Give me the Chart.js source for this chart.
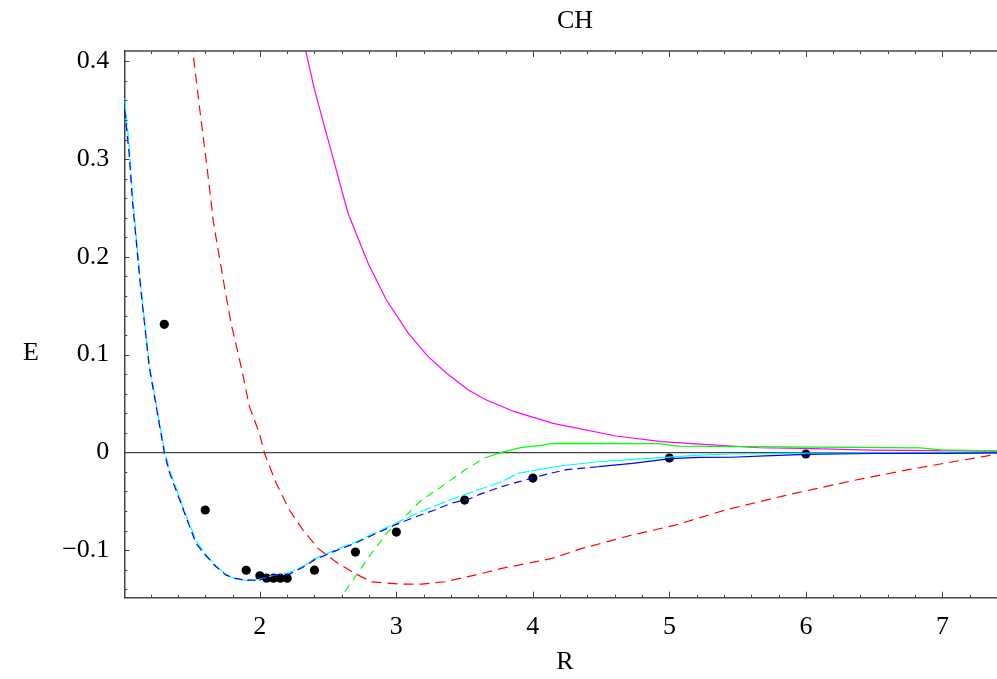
<!DOCTYPE html>
<html>
<head>
<meta charset="utf-8">
<title>CH</title>
<script src="https://cdn.jsdelivr.net/npm/chart.js@4"></script>
<style>
  html, body { margin: 0; padding: 0; background: #fff; }
  #wrap { width: 997px; height: 679px; }
</style>
</head>
<body>
<div id="wrap"><canvas id="chart" width="997" height="679"></canvas></div>
<script>
// axis ticks
const xTickValues = [2, 3, 4, 5, 6, 7];
const yTickValues = [-0.1, 0, 0.1, 0.2, 0.3, 0.4];

// dark blue (dashed, solid at large R)
const blueR = [1.01, 1.043, 1.068, 1.104, 1.128, 1.19, 1.30, 1.336, 1.459, 1.532, 1.60, 1.679, 1.753, 1.82, 1.899, 1.997, 2.095, 2.217, 2.316, 2.40, 2.55, 2.695, 2.85, 2.988, 3.14, 3.28, 3.404, 3.527, 3.61, 3.772, 3.9, 4.016, 4.11, 4.25, 4.48, 4.73, 5.01, 5.216, 5.46, 5.70, 6.0, 6.5, 7.0, 7.42];
const blueE = [0.350, 0.305, 0.255, 0.202, 0.166, 0.087, 0.0, -0.020, -0.066, -0.093, -0.105, -0.117, -0.1256, -0.129, -0.1307, -0.1307, -0.1256, -0.1245, -0.1175, -0.110, -0.101, -0.0932, -0.083, -0.0744, -0.066, -0.059, -0.052, -0.048, -0.043, -0.035, -0.030, -0.0256, -0.022, -0.0176, -0.0147, -0.0113, -0.0065, -0.0051, -0.005, -0.0036, -0.002, -0.0012, -0.001, -0.0006];

// cyan
const cyanR = [1.01, 1.043, 1.068, 1.104, 1.128, 1.19, 1.30, 1.336, 1.459, 1.532, 1.60, 1.679, 1.753, 1.82, 1.899, 1.997, 2.095, 2.217, 2.316, 2.40, 2.55, 2.695, 2.85, 2.988, 3.14, 3.28, 3.404, 3.527, 3.65, 3.772, 3.89, 3.99, 4.21, 4.48, 4.73, 4.97, 5.216, 5.46, 5.83, 6.5, 7.42];
const cyanE = [0.362, 0.313, 0.262, 0.206, 0.170, 0.090, 0.003, -0.017, -0.064, -0.090, -0.104, -0.116, -0.125, -0.1295, -0.131, -0.130, -0.126, -0.123, -0.1165, -0.109, -0.100, -0.092, -0.082, -0.073, -0.063, -0.055, -0.048, -0.042, -0.036, -0.030, -0.0215, -0.019, -0.0137, -0.0096, -0.0072, -0.0051, -0.0028, -0.0017, -0.001, -0.0006, -0.0004];

// red dashed
const redR = [1.50, 1.512, 1.557, 1.60, 1.63, 1.659, 1.703, 1.745, 1.789, 1.863, 1.924, 1.997, 2.034, 2.12, 2.217, 2.316, 2.426, 2.573, 2.695, 2.817, 3.037, 3.184, 3.355, 3.576, 3.772, 4.016, 4.139, 4.36, 4.726, 5.044, 5.41, 5.83, 6.05, 6.366, 6.733, 7.15, 7.32, 7.42];
const redE = [0.42, 0.4067, 0.354, 0.306, 0.272, 0.236, 0.200, 0.166, 0.132, 0.0876, 0.0467, 0.0194, -0.001, -0.0317, -0.059, -0.0795, -0.0983, -0.1136, -0.1238, -0.1324, -0.1348, -0.1348, -0.1324, -0.1256, -0.1187, -0.112, -0.1085, -0.0983, -0.0846, -0.0744, -0.059, -0.0447, -0.0379, -0.0283, -0.0181, -0.0079, -0.0038, -0.001];

// green
const greenR = [2.58, 2.597, 2.707, 2.817, 2.94, 3.037, 3.184, 3.33, 3.50, 3.65, 3.772, 3.918, 4.065, 4.14, 4.92, 5.07, 5.83, 6.84, 6.99, 7.42];
const greenE = [-0.17, -0.148, -0.1256, -0.1034, -0.0812, -0.0693, -0.0488, -0.0352, -0.0181, -0.0055, 0.0, 0.0051, 0.0072, 0.0092, 0.0090, 0.0064, 0.0057, 0.0045, 0.0025, 0.0015];

// magenta
const magentaR = [2.32, 2.335, 2.40, 2.50, 2.646, 2.793, 2.927, 3.087, 3.233, 3.368, 3.527, 3.66, 3.866, 4.148, 4.61, 4.942, 5.25, 5.66, 5.97, 6.48, 7.42];
const magentaE = [0.43, 0.4117, 0.371, 0.3197, 0.2446, 0.1935, 0.1559, 0.122, 0.0979, 0.0809, 0.0638, 0.0535, 0.0416, 0.0297, 0.0167, 0.0109, 0.0082, 0.0047, 0.0041, 0.0023, 0.0013];

// reference points
const dotR = [1.3, 1.6, 1.9, 2.0, 2.05, 2.1, 2.15, 2.2, 2.4, 2.7, 3.0, 3.5, 4.0, 5.0, 6.0];
const dotE = [0.131, -0.059, -0.1206, -0.1263, -0.1287, -0.1287, -0.1287, -0.1287, -0.1205, -0.102, -0.0816, -0.0488, -0.0263, -0.0058, -0.0017];

const zip = (xs, ys) => xs.map((x, i) => ({ x: x, y: ys[i] }));

// dashed up to a given R, solid after it
function curve(label, xs, ys, color, dash, solidFrom) {
  return {
    label: label,
    data: zip(xs, ys),
    borderColor: color,
    borderWidth: 1.2,
    pointRadius: 0,
    tension: 0,
    fill: false,
    segment: {
      borderDash: ctx => (ctx.p0.parsed.x < solidFrom ? dash : [])
    }
  };
}

const serif = '"Liberation Serif", "DejaVu Serif", serif';

// inward ticks, top frame and the labels
const framePlugin = {
  id: 'frame',
  afterDraw(chart) {
    const { ctx, chartArea: a, scales } = chart;
    const xs = scales.x, ys = scales.y;
    ctx.save();
    ctx.strokeStyle = '#444';
    ctx.lineWidth = 1;
    ctx.beginPath();
    for (let i = 6; i <= 37; i++) {
      const v = i / 5;
      const px = Math.round(xs.getPixelForValue(v)) + 0.5;
      if (px < a.left || px > a.right) continue;
      const len = i % 5 === 0 ? 6 : 3;
      ctx.moveTo(px, a.bottom); ctx.lineTo(px, a.bottom - len);
      ctx.moveTo(px, a.top); ctx.lineTo(px, a.top + len);
    }
    for (let i = -7; i <= 20; i++) {
      const v = i / 50;
      const py = Math.round(ys.getPixelForValue(v)) + 0.5;
      if (py < a.top || py > a.bottom) continue;
      const len = i % 5 === 0 ? 5 : 3;
      ctx.moveTo(a.left, py); ctx.lineTo(a.left + len, py);
    }
    ctx.stroke();
    ctx.lineWidth = 1.5;
    ctx.beginPath();
    ctx.moveTo(a.left, a.top); ctx.lineTo(a.right, a.top);
    ctx.stroke();

    ctx.fillStyle = '#000';
    ctx.font = '26px ' + serif;
    ctx.textAlign = 'center';
    ctx.textBaseline = 'middle';
    ctx.fillText('CH', 575, 21);
    ctx.fillText('E', 31, 353);
    ctx.fillText('R', 565, 662);
    ctx.restore();
  }
};

new Chart(document.getElementById('chart'), {
  type: 'line',
  data: {
    datasets: [
      curve('blue', blueR, blueE, '#0000ff', [8, 5], 4.26),
      curve('cyan', cyanR, cyanE, '#00ffff', [12, 3], 3.9),
      curve('red', redR, redE, '#ff0000', [10, 6], 99),
      curve('green', greenR, greenE, '#00ff00', [8, 6], 3.62),
      curve('magenta', magentaR, magentaE, '#ff00ff', [], 0),
      {
        label: 'points',
        data: zip(dotR, dotE),
        showLine: false,
        pointRadius: 4.6,
        pointBackgroundColor: '#000',
        pointBorderWidth: 0
      }
    ]
  },
  options: {
    responsive: false,
    animation: false,
    layout: { autoPadding: false, padding: { top: 51, left: 0, right: 0, bottom: 0 } },
    plugins: {
      legend: { display: false },
      tooltip: { enabled: false },
      title: { display: false }
    },
    scales: {
      x: {
        type: 'linear',
        min: 1.007,
        max: 7.40,
        afterBuildTicks: s => { s.ticks = xTickValues.map(v => ({ value: v })); },
        afterFit: s => { s.height = 81.3; },
        ticks: {
          autoSkip: false,
          maxRotation: 0,
          padding: 14,
          color: '#000',
          font: { family: serif, size: 26 },
          callback: v => String(v)
        },
        grid: { display: false, drawTicks: false },
        border: { display: true, color: '#444', width: 1.5 }
      },
      y: {
        type: 'linear',
        min: -0.1487,
        max: 0.4106,
        afterBuildTicks: s => { s.ticks = yTickValues.map(v => ({ value: v })); },
        afterFit: s => { s.width = 124.3; },
        ticks: {
          autoSkip: false,
          padding: 15,
          color: '#000',
          font: { family: serif, size: 26 },
          callback: v => (Math.abs(v) < 1e-9 ? '0' : (v < 0 ? '\u2212' : '') + Math.abs(v).toFixed(1))
        },
        grid: {
          drawTicks: false,
          drawOnChartArea: true,
          color: ctx => (ctx.tick && Math.abs(ctx.tick.value) < 1e-9 ? '#444' : 'rgba(0,0,0,0)'),
          lineWidth: 1.2
        },
        border: { display: true, color: '#444', width: 1.5 }
      }
    }
  },
  plugins: [framePlugin]
});
</script>
</body>
</html>
